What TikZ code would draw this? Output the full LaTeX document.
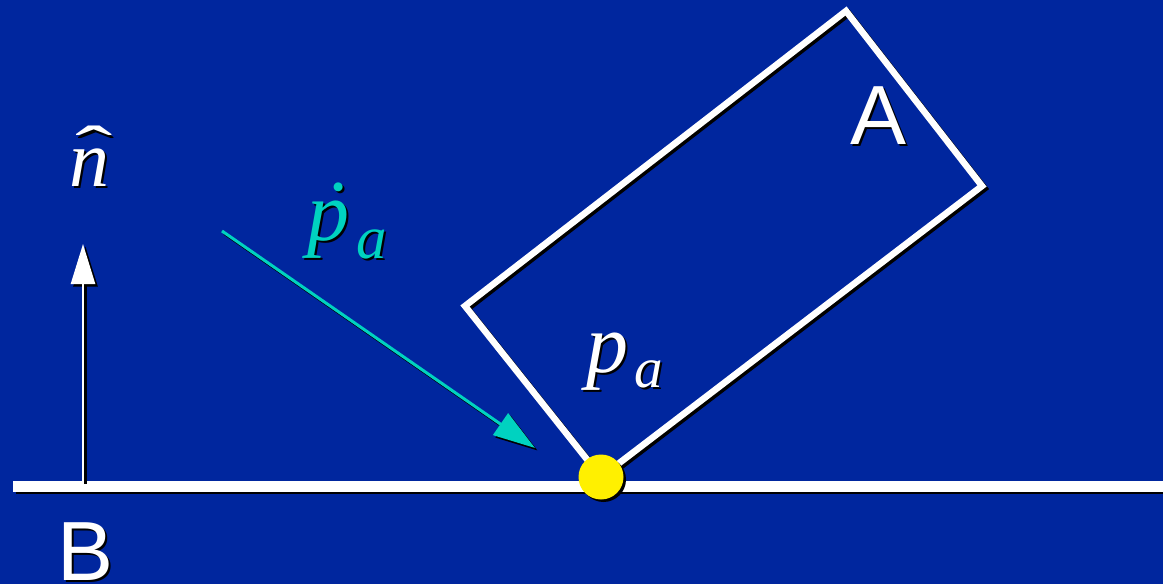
\documentclass[tikz,border=0pt]{standalone}
\usepackage{fontspec}
\usepackage{graphicx}
\setmainfont{Liberation Serif}
\newfontfamily\sansA{Liberation Sans}
\usetikzlibrary{arrows.meta}
\definecolor{bgblue}{RGB}{0,38,158}
\colorlet{linec}{white}
\definecolor{tealc}{RGB}{0,210,192}
\definecolor{dotc}{RGB}{255,240,0}
\newcommand\shadowed[1]{%
  \begin{scope}[transform canvas={shift={(2.5,2.5)}}]
    \colorlet{linec}{black}\colorlet{tealc}{black}\colorlet{dotc}{black}%
    #1
  \end{scope}
  #1}
\tikzset{
  floorsty/.style={line width=11pt, draw=linec},
  boxsty/.style={line width=6.5pt, draw=linec, line join=miter},
  normalsty/.style={line width=2.5pt, draw=linec, -{Triangle[length=40pt,width=24pt]}},
  velsty/.style={line width=3pt, draw=tealc, -{Triangle[length=42pt,width=26pt]}},
  dotsty/.style={circle, fill=dotc, minimum size=45pt, inner sep=0pt},
  lbl/.style={anchor=base west, inner sep=0pt},
  mathlbl/.style={lbl, font=\fontsize{84}{84}\selectfont\itshape},
  letterlbl/.style={lbl, text=linec, font=\sansA\fontsize{84}{84}\selectfont},
}
\begin{document}
\begin{tikzpicture}[x=1pt,y=-1pt]
\fill[bgblue] (0,0) rectangle (1163,584);
\useasboundingbox (0,0) rectangle (1163,584);
\coordinate (ctop) at (846,11);
\coordinate (cright) at (982,186);
\coordinate (cbot) at (601,477);
\coordinate (cleft) at (465,306);
\coordinate (fl) at (13,486);
\coordinate (fr) at (1170,486);
\coordinate (nbase) at (83,481);
\coordinate (ntip) at (83,244);
\coordinate (vstart) at (222,231);
\coordinate (vtip) at (535,448);
\shadowed{\draw[floorsty] (fl) -- (fr);}
\shadowed{\draw[boxsty] (ctop) -- (cright) -- (cbot) -- (cleft) -- cycle;}
\shadowed{\draw[normalsty] (nbase) -- (ntip);}
\shadowed{\draw[velsty] (vstart) -- (vtip);}
\shadowed{\node[dotsty] (contact) at (cbot) {};}
\shadowed{\node[lbl, text=linec, font=\fontsize{80}{80}\selectfont\itshape] (nhat) at (69,186)
  {\makebox[0pt][l]{\hspace{6pt}\raisebox{15.5pt}{\scalebox{1.4}[0.8]{\upshape\char"02C6}}}n};}
\shadowed{\node[mathlbl, text=tealc] (pdot) at (307,240)
  {\makebox[0pt][l]{\hspace{17pt}\raisebox{2pt}{\upshape\char"02D9}}p\kern7pt\raisebox{-18pt}{\fontsize{61}{61}\selectfont a}};}
\shadowed{\node[mathlbl, text=linec] (pa) at (586,372)
  {p\kern6pt\raisebox{-15pt}{\fontsize{57}{57}\selectfont a}};}
\shadowed{\node[letterlbl] (A) at (850,144) {A};}
\shadowed{\node[letterlbl] (B) at (57,580) {B};}
\end{tikzpicture}
\end{document}
